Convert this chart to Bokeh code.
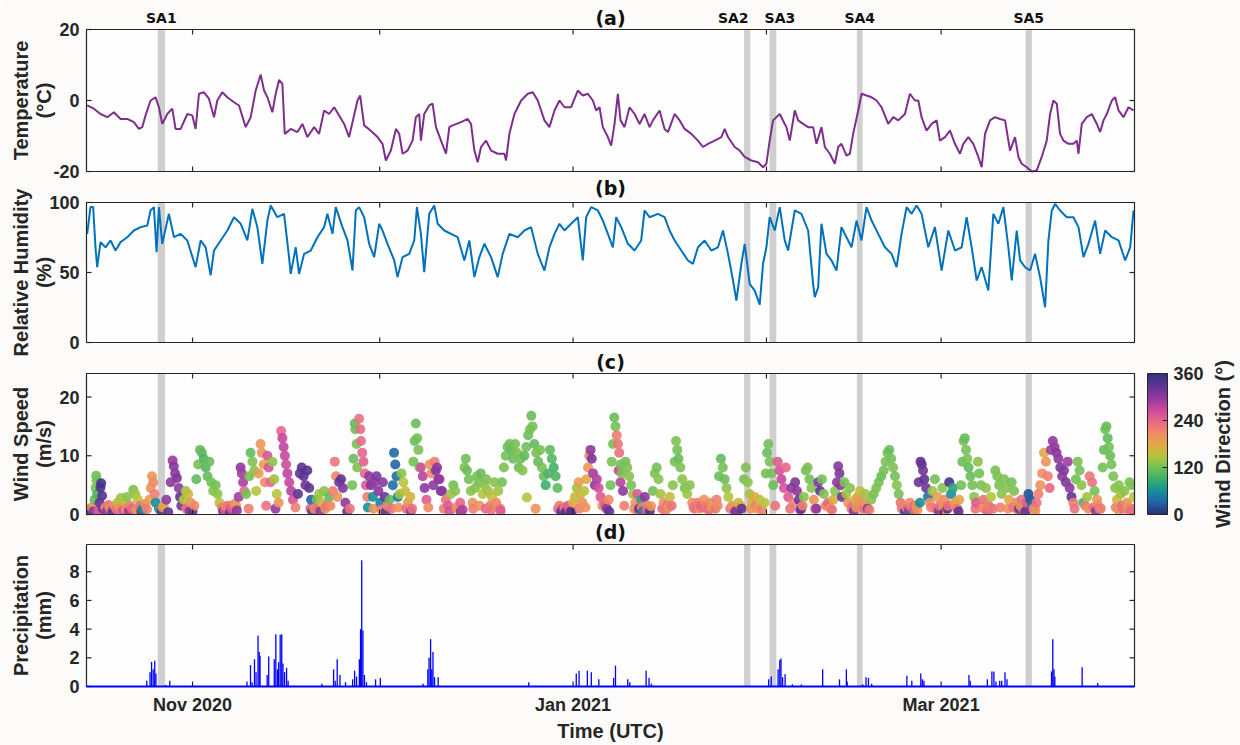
import numpy as np
import pandas as pd
from bokeh.plotting import figure
from bokeh.models import (Range1d, FixedTicker, BoxAnnotation, ColorBar, LinearColorMapper,
                          ColumnDataSource)
from bokeh.transform import linear_cmap
from bokeh.core.properties import value
from bokeh.embed import file_html
from bokeh.resources import INLINE

# ---------------------------------------------------------------- data
# all times are given in days since the start of the record (2020-10-15 00:00 UTC)
record_start = "2020-10-15 00:00"
record_end = "2021-04-01 00:00"

# special-attention periods (UTC)
sa_names = ["SA1", "SA2", "SA3", "SA4", "SA5"]
sa_start = ["2020-10-26 10:00", "2021-01-28 10:00", "2021-02-01 12:00", "2021-02-15 12:00", "2021-03-14 13:00"]
sa_end = ["2020-10-27 14:00", "2021-01-29 10:00", "2021-02-02 14:00", "2021-02-16 10:00", "2021-03-15 13:00"]

month_ticks = ["2020-11-01", "2020-12-01", "2021-01-01", "2021-02-01", "2021-03-01"]
labeled_months = ["2020-11-01", "2021-01-01", "2021-03-01"]

temp_ticks = [-20, 0, 20]
rh_ticks = [0, 50, 100]
ws_ticks = [0, 10, 20]
pr_ticks = [0, 2, 4, 6, 8]
dir_ticks = [0, 120, 240, 360]

temp_day = [0.11, 1.18, 2.25, 3.32, 4.39, 5.46, 6.53, 7.6, 8.4, 8.93, 9.47, 10.27, 11.07, 11.61, 12.14,
            12.95, 13.75, 14.28, 15.09, 16.16, 16.96, 17.49, 18.03, 18.83, 19.63, 20.44, 20.97, 21.77,
            22.58, 23.65, 24.45, 25.52, 26.32, 27.12, 27.93, 28.46, 29.0, 29.8, 30.33, 30.87, 31.4,
            31.78, 32.74, 33.81, 34.61, 35.42, 36.49, 37.29, 38.09, 38.89, 39.7, 40.5, 41.3, 42.1,
            42.64, 43.44, 43.87, 44.51, 45.58, 46.65, 47.45, 47.99, 48.79, 49.6, 50.13, 50.67, 51.47,
            52.27, 52.8, 53.34, 53.61, 54.14, 54.94, 55.48, 56.02, 56.83, 57.63, 58.16, 58.7, 60.04,
            61.11, 61.64, 62.18, 62.71, 63.25, 64.05, 64.85, 65.92, 66.99, 67.26, 67.79, 68.6, 69.67,
            70.74, 71.54, 72.34, 73.41, 74.21, 75.02, 75.82, 76.62, 77.69, 78.76, 79.56, 80.37, 81.17,
            81.7, 82.24, 82.77, 83.58, 84.11, 84.65, 85.18, 85.61, 86.25, 87.05, 87.86, 88.66, 89.46,
            90.26, 90.8, 91.87, 92.67, 93.21, 94.28, 95.08, 95.88, 96.95, 98.02, 98.82, 99.63, 100.7,
            101.77, 102.3, 102.84, 103.91, 104.71, 105.51, 106.58, 107.65, 108.45, 108.99, 109.52,
            110.06, 111.13, 111.93, 112.2, 112.74, 113.54, 114.08, 114.88, 115.68, 116.48, 117.02,
            117.82, 118.36, 119.16, 119.96, 120.5, 121.03, 121.83, 122.37, 122.9, 123.71, 124.24,
            125.04, 125.85, 126.65, 127.45, 128.52, 129.32, 130.13, 131.2, 132.0, 132.8, 133.34,
            133.87, 134.67, 135.48, 136.28, 136.81, 137.62, 138.42, 139.22, 140.02, 140.56, 141.36,
            142.16, 142.97, 143.5, 144.04, 144.84, 145.64, 146.44, 147.25, 148.05, 148.85, 149.39,
            149.92, 150.72, 151.53, 152.33, 153.13, 153.93, 154.47, 155.0, 155.54, 156.07, 156.61,
            157.41, 158.21, 158.75, 159.02, 159.55, 160.35, 161.16, 161.96, 162.49, 163.03, 163.56,
            164.37, 164.9, 165.44, 166.24, 167.04, 167.84]
temp_c = [-1.4, -2.3, -3.8, -4.7, -3.3, -5.2, -5.2, -6.1, -8.0, -7.5, -4.2, 0.0, 0.9, -1.9, -6.6,
          -3.8, -2.3, -8.0, -8.0, -3.8, -4.2, -8.0, 1.9, 2.3, 0.5, -4.7, 0.0, 2.3,
          0.9, -0.5, -1.4, -7.5, -4.7, 2.8, 7.3, 2.8, 0.9, -3.3, 1.9, 5.8, 4.7,
          -9.4, -8.0, -8.9, -6.6, -10.3, -7.5, -9.4, -2.8, -3.8, -1.9, -4.2, -6.6, -10.3,
          -6.1, 0.0, 1.4, -7.0, -8.5, -10.3, -12.2, -16.9, -14.1, -8.0, -9.4, -15.0, -14.1,
          -11.3, -4.7, -3.8, -11.3, -3.8, -1.4, -0.9, -7.5, -11.3, -15.0, -7.5, -7.0, -6.1,
          -5.2, -6.6, -14.1, -17.4, -13.1, -11.3, -14.1, -15.0, -15.0, -16.9, -9.4, -3.8, 0.0,
          1.9, 2.3, 0.0, -5.6, -7.5, -2.8, 0.0, -1.9, -1.9, 2.8, 1.4, 1.9, 0.0,
          -2.8, -1.9, -7.5, -10.3, -12.7, -6.6, 1.9, -5.6, -7.5, -1.9, -3.8, -6.6, -3.8,
          -7.5, -5.6, -2.8, -8.0, -8.9, -3.8, -5.6, -8.0, -9.4, -11.3, -13.1, -12.2, -11.3,
          -10.3, -8.0, -10.3, -13.1, -14.1, -15.9, -16.9, -17.4, -18.8, -17.8, -11.3,
          -5.6, -3.8, -6.6, -7.5, -11.3, -2.8, -5.6, -6.6, -7.5, -7.5, -12.2,
          -7.5, -13.1, -15.0, -17.8, -13.1, -12.2, -15.5, -15.0, -9.4, -2.8, 1.9,
          1.4, 0.9, 0.0, -1.9, -6.6, -4.7, -5.6, -3.8, 1.9, 0.0, 0.0,
          -4.7, -8.5, -6.6, -5.6, -11.3, -10.3, -8.5, -12.2, -15.0, -12.2, -10.3,
          -12.2, -15.9, -18.8, -9.4, -5.6, -4.7, -5.2, -5.6, -14.1, -10.3, -15.9,
          -17.8, -18.8, -20.0, -19.7, -15.9, -11.3, -3.8, 0.0, -0.9, -9.4, -11.3,
          -12.2, -12.2, -11.3, -15.0, -6.6, -4.7, -3.8, -6.6, -8.9, -5.6, -3.8,
          0.0, 0.9, -2.8, -4.7, -1.9, -2.8]

rh_day = [0.11, 0.64, 1.07, 1.44, 1.71, 2.25, 3.05, 3.85, 4.65, 5.46, 6.53, 7.6, 8.67, 9.74, 10.27,
          10.81, 11.23, 11.61, 12.14, 13.21, 14.02, 15.09, 16.16, 17.49, 18.3, 19.1, 19.9, 20.44,
          21.51, 22.58, 23.65, 24.72, 25.79, 26.59, 27.39, 28.19, 29.0, 29.53, 30.6, 31.67, 32.47,
          32.74, 33.54, 34.08, 34.88, 35.95, 37.02, 38.09, 38.62, 39.43, 39.96, 41.03, 41.84, 42.64,
          43.17, 43.71, 44.51, 45.31, 46.12, 46.92, 47.45, 48.26, 49.33, 49.86, 50.67, 51.73, 52.54,
          52.97, 53.61, 54.14, 54.94, 55.75, 56.29, 57.36, 58.43, 59.5, 60.57, 61.37, 62.18, 62.98,
          63.78, 64.85, 65.92, 66.72, 67.79, 69.13, 70.2, 71.27, 72.34, 73.41, 74.21, 75.02, 75.82,
          76.62, 77.69, 78.76, 79.56, 80.1, 80.9, 81.97, 82.77, 83.58, 84.38, 84.91, 85.72, 86.79,
          87.86, 88.92, 89.46, 90.26, 91.6, 92.67, 93.47, 94.28, 95.35, 96.42, 97.22, 98.02, 99.09,
          100.16, 101.23, 102.03, 102.84, 103.64, 104.18, 104.98, 105.51, 106.31, 107.12, 107.92,
          108.45, 108.99, 109.52, 110.33, 111.13, 111.93, 112.47, 113.54, 114.61, 115.68, 116.48,
          116.75, 117.29, 117.82, 118.62, 119.43, 120.23, 121.03, 121.83, 122.64, 123.44, 124.24,
          125.04, 125.85, 126.92, 127.99, 129.06, 129.86, 130.66, 131.46, 132.27, 133.07, 133.87,
          134.94, 136.01, 137.08, 138.15, 139.22, 140.29, 141.09, 141.9, 142.7, 143.5, 144.57,
          145.37, 146.18, 146.98, 147.78, 148.32, 149.12, 149.66, 150.45, 151.26, 152.06, 152.86,
          153.67, 154.2, 154.74, 155.27, 156.07, 157.14, 158.21, 159.02, 159.82, 160.62, 161.69,
          162.49, 163.3, 164.37, 165.44, 166.51, 167.31, 167.84]
rh_pct = [77.6, 96.7, 96.7, 68, 53.8, 71.7, 68, 72.9, 65.7, 71.7, 75.2, 80, 82.4, 83.6, 94.3,
          96.7, 64.5, 96.7, 70.5, 91.9, 75.2, 77.6, 72.9, 53.8, 72.9, 68, 47.9, 65.7,
          72.9, 80, 89.5, 84.8, 72.9, 95.5, 82.4, 56.2, 87.1, 97.9, 89.5, 91.9, 61,
          49, 68, 49, 63.3, 65.7, 75.2, 82.4, 91.9, 77.6, 96.7, 82.4, 72.9, 51.4,
          94.3, 96.7, 89.5, 70.5, 61, 84.8, 80, 70.5, 58.6, 46.7, 61, 63.3, 72.9,
          96.7, 77.6, 50.2, 91.9, 97.9, 84.8, 80, 77.6, 75.2, 58.6, 72.9, 46.7, 61,
          70.5, 61, 46.7, 63.3, 77.6, 75.2, 80, 82.4, 63.3, 51.4, 68, 77.6, 84.8,
          80, 84.8, 89.5, 58.6, 89.5, 96.7, 94.3, 87.1, 77.6, 68, 89.5, 82.4, 70.5,
          65.7, 72.9, 94.3, 89.5, 91.9, 89.5, 80, 72.9, 65.7, 58.6, 56.2, 68, 72.9,
          65.7, 68, 80, 63.3, 44.3, 30, 56.2, 70.5, 41.9, 37.1, 27,
          56.2, 68, 89.5, 80, 96.7, 72.9, 65.7, 94.3, 91.9, 80, 41.9,
          32.4, 39.5, 84.8, 63.3, 58.6, 51.4, 82.4, 75.2, 68, 87.1, 72.9,
          96.7, 87.1, 77.6, 68, 63.3, 53.8, 77.6, 96.7, 91.9, 97.9, 91.9,
          68, 82.4, 51.4, 80, 65.7, 68, 89.5, 68, 44.3, 53.8, 37.1,
          91.9, 84.8, 96.7, 68, 44.3, 80, 58.6, 53.8, 51.4, 63.3, 46.7,
          25.2, 72.9, 94.3, 99, 94.3, 89.5, 89.5, 82.4, 61, 70.5, 87.1,
          63.3, 80, 75.2, 72.9, 58.6, 68, 94.3]

# wind observations: time (days), speed (m/s), direction (degrees)
wind_day = [
    0.2, 0.5, 0.8, 1.1,
    1.3, 1.45, 1.55, 1.6, 1.7,
    2.1, 2.25, 2.35, 2.5, 2.6,
    3.0, 3.5, 4.0, 4.5, 5.0, 5.5, 6.0, 6.5, 7.0, 7.5, 7.8, 8.2, 8.6, 9.0, 9.4,
    10.1, 10.3, 10.5, 10.7, 10.9, 11.1,
    11.6, 12.0, 12.4, 12.8, 13.1,
    13.5, 13.8, 14.0, 14.2, 14.5, 14.8, 15.0, 15.2,
    15.6, 15.9, 16.3, 16.7, 17.0,
    17.6, 17.9, 18.2, 18.5, 18.8, 19.1, 19.4, 19.7, 20.0, 20.3,
    20.7, 21.0, 21.3,
    21.7, 22.2, 22.7, 23.2, 23.7, 24.1,
    24.4, 24.7, 24.9, 25.1, 25.3, 25.6,
    26.1, 26.3, 26.6, 26.9, 27.2,
    27.6, 27.9, 28.1, 28.4, 28.6,
    29.0, 29.2, 29.5, 29.8, 30.1, 30.5, 30.8,
    31.2, 31.4, 31.6, 31.8, 32.0, 32.2, 32.5, 32.8, 33.1,
    33.9, 34.2, 34.5, 34.8, 35.1, 35.4, 35.7, 36.0,
    36.5, 36.9, 37.3, 37.7, 38.1, 38.5, 38.9,
    39.5, 39.8, 40.0, 40.2,
    40.5, 40.8, 41.1, 41.5, 41.8,
    42.6, 42.8, 43.0, 43.1, 43.3, 43.4,
    43.7, 43.9, 44.0, 44.2, 44.4, 44.6, 44.8, 45.0,
    45.3, 45.6, 45.9, 46.2, 46.5, 46.8, 47.1, 47.5, 47.8, 48.2, 48.6,
    49.1, 49.3, 49.5, 49.7, 49.9,
    50.2, 50.5, 50.8, 51.1, 51.5, 51.9, 52.2,
    52.4, 52.6, 52.8, 53.0, 53.2, 53.4,
    53.6, 53.9, 54.2, 54.5,
    55.0, 55.3, 55.6, 55.8, 56.0, 56.2, 56.4, 56.6, 56.8, 57.0,
    57.6, 58.0, 58.4, 58.8, 59.1, 59.5, 59.9, 60.3,
    60.6, 60.8, 61.0, 61.3, 61.6, 61.9,
    62.3, 62.6, 62.9, 63.2, 63.5, 63.8, 64.1, 64.4, 64.7, 65.0, 65.4, 65.7, 66.0, 66.3,
    66.6, 66.9, 67.2, 67.5, 67.8, 68.1, 68.4, 68.7, 69.0, 69.3, 69.6, 69.9, 70.2, 70.5, 70.6, 70.8, 71.1, 71.3, 71.5,
    71.8, 72.1, 72.4, 72.7, 73.0, 73.3, 73.6,
    74.0, 74.3, 74.6, 74.9, 75.2, 75.5,
    75.8, 76.1, 76.4, 76.8, 77.2, 77.6, 78.0,
    78.3, 78.6, 78.9, 79.2, 79.5, 79.8, 80.1,
    80.4, 80.6, 80.8, 81.0, 81.2, 81.5, 81.8, 82.1, 82.4, 82.7,
    83.0, 83.4, 83.7,
    84.0, 84.2, 84.4, 84.6, 84.8, 85.0, 85.2, 85.3, 85.4, 85.6, 85.6, 85.8, 86.0,
    86.4, 86.7, 87.0, 87.3, 87.6,
    88.0, 88.3, 88.6, 88.9, 89.2, 89.5, 89.9, 90.3,
    90.8, 91.1, 91.4, 91.7, 92.0,
    92.5, 93.0, 93.5, 94.0, 94.3, 94.5, 94.7, 94.9, 95.2, 95.5, 95.9, 96.3, 96.7, 97.1, 97.5,
    98.0, 98.5, 99.0, 99.5, 100.0, 100.5, 101.0,
    101.4, 101.7, 102.0, 102.3, 102.6, 102.9,
    103.5, 104.0, 104.5, 105.0,
    105.4, 105.7, 106.0, 106.3,
    106.7, 107.1, 107.5, 107.9, 108.3, 108.7,
    108.9, 109.1, 109.3, 109.5, 109.8, 110.1,
    110.8, 111.1, 111.4, 111.8, 112.1, 112.5, 113.0, 113.3,
    113.6, 113.9, 114.2, 114.6,
    115.0, 115.3, 115.6, 115.9, 116.2, 116.6, 117.0,
    117.3, 117.6, 117.9, 118.2, 118.5, 118.9, 119.3, 119.7, 120.0,
    120.3, 120.5, 120.7, 120.9, 121.1,
    121.5, 121.8, 122.1, 122.4, 122.8, 123.2,
    123.6, 124.0, 124.4, 124.8, 125.2,
    125.8, 126.2, 126.6, 127.0, 127.4, 127.8, 128.1, 128.4, 128.7, 129.0, 129.3, 129.6, 129.9, 130.2, 130.5,
    130.8, 131.2, 131.6, 132.0, 132.4, 132.8, 133.2, 133.6,
    133.4, 133.7, 133.9, 134.1, 134.3, 134.6, 134.9,
    135.2, 135.6, 136.0, 136.4, 136.8, 137.2, 137.6, 138.0,
    138.3, 138.6, 138.9, 139.2, 139.6, 139.9,
    140.2, 140.4, 140.6, 140.8, 141.0, 141.2, 141.4, 141.7, 142.0, 142.3,
    142.6, 142.9, 143.1, 143.4, 143.8, 144.2, 144.6, 145.0,
    145.7, 146.0, 146.3, 146.7, 147.1, 147.5, 147.9, 148.3, 148.7, 149.1, 149.5, 149.9, 150.3, 150.7,
    151.0, 151.3, 151.6, 152.0, 152.3,
    152.6, 152.9, 153.2, 153.5, 153.8, 154.1, 154.4,
    154.6, 154.9, 155.2, 155.5, 155.8, 156.1, 156.4, 156.7, 157.0, 157.3, 157.6, 157.9, 158.2,
    158.6, 158.9, 159.2, 159.5, 159.8,
    160.4, 160.8, 161.2, 161.6, 162.0, 162.4,
    162.9, 163.1, 163.3, 163.5, 163.7, 163.9, 164.1, 164.3, 164.6, 164.9,
    165.2, 165.5, 165.8, 166.1, 166.4, 166.8, 167.2, 167.6, 167.9,
]
wind_speed = [
    0.8, 0.3, 1.2, 0.5,
    2.5, 4.5, 6.6, 5.8, 3.5,
    2.0, 4.6, 5.3, 3.2, 1.0,
    1.2, 1.6, 0.8, 1.5, 2.0, 2.8, 2.2, 3.0, 1.5, 4.2, 3.5, 2.6, 1.5, 1.0, 1.8,
    2.5, 4.5, 6.5, 5.5, 3.5, 2.0,
    1.0, 0.5, 1.5, 2.5, 0.4,
    5.5, 9.2, 8.2, 7.0, 6.2, 4.5, 3.0, 1.5,
    2.5, 4.0, 3.5, 2.0, 0.5,
    6.0, 8.5, 11.0, 10.5, 9.5, 8.0, 6.5, 9.0, 5.5, 4.0,
    5.0, 3.5, 2.0,
    1.2, 0.8, 1.5, 1.0, 1.8, 0.7,
    3.0, 8.0, 7.0, 5.5, 4.0, 3.5,
    6.5, 10.5, 9.0, 7.5, 4.0,
    7.0, 12.0, 10.5, 8.5, 5.5,
    10.0, 8.0, 5.5, 9.0, 6.0, 3.5, 2.0,
    14.2, 13.0, 11.5, 10.0, 8.5, 7.0, 5.5, 4.0, 2.5,
    3.5, 7.0, 8.0, 6.5, 5.0, 7.5, 4.5, 2.5,
    1.0, 2.5, 3.5, 2.0, 4.0, 1.5, 3.0,
    4.0, 9.0, 6.5, 3.0,
    5.5, 6.0, 4.5, 2.0, 0.5,
    5.0, 9.5, 15.5, 14.5, 12.0, 8.0,
    16.3, 14.5, 12.5, 10.5, 9.0, 7.0, 5.0, 3.0,
    6.5, 5.0, 3.0, 5.5, 6.5, 4.0, 2.0, 5.5, 3.0, 1.5, 2.5,
    5.0, 10.5, 8.5, 6.5, 3.0,
    3.5, 7.0, 5.5, 4.0, 2.0, 3.0, 1.0,
    9.0, 12.5, 15.5, 13.0, 11.0, 8.0,
    8.0, 6.5, 4.5, 2.5,
    8.5, 7.0, 5.0, 9.0, 7.5, 8.0, 6.0, 6.0, 4.0, 4.0,
    2.5, 1.5, 3.5, 5.0, 4.0, 1.0, 2.0, 0.8,
    8.0, 9.5, 7.5, 6.0, 4.0, 2.0,
    4.5, 6.5, 5.5, 7.0, 3.5, 5.0, 6.0, 4.0, 1.5, 3.0, 5.5, 2.0, 4.0, 1.0,
    5.5, 8.0, 10.0, 11.5, 12.0, 11.0, 9.5, 12.0, 10.5, 8.0, 9.5, 7.5, 10.0, 11.5, 2.9, 13.5, 14.5, 16.8, 15.0,
    12.0, 10.5, 9.0, 11.0, 8.0, 6.5, 5.0,
    7.0, 11.0, 9.5, 8.0, 6.5, 4.5,
    1.5, 0.5, 1.0, 0.3, 1.5, 0.5, 2.0,
    3.0, 4.5, 5.5, 3.5, 2.0, 4.0, 6.0,
    8.0, 10.0, 11.0, 9.5, 7.0, 5.0, 6.0, 4.5, 3.0, 1.5,
    2.0, 1.0, 2.5,
    5.0, 9.0, 12.0, 16.5, 15.0, 13.5, 12.0, 7.5, 10.5, 8.5, 5.5, 7.0, 4.0,
    9.0, 8.0, 6.5, 5.0, 3.5,
    2.0, 3.5, 1.0, 2.5, 0.5, 3.0, 1.5, 0.6,
    4.0, 7.0, 8.0, 6.0, 3.5,
    2.0, 1.5, 3.0, 5.0, 9.0, 12.5, 11.0, 9.5, 8.0, 6.0, 4.5, 3.5, 5.0, 2.0, 1.0,
    2.0, 1.5, 2.5, 1.0, 2.0, 1.5, 2.5,
    6.5, 9.5, 8.0, 6.0, 4.5, 3.0,
    1.5, 0.5, 2.0, 1.0,
    6.0, 8.0, 5.5, 3.5,
    2.0, 3.0, 1.0, 2.5, 0.8, 2.0,
    7.0, 10.5, 12.0, 9.0, 7.0, 5.0,
    9.0, 7.5, 6.0, 4.5, 8.0, 3.0, 4.5, 2.0,
    5.5, 4.0, 2.5, 1.0,
    3.0, 7.5, 8.0, 6.0, 4.5, 2.5, 1.0,
    5.5, 4.0, 6.0, 3.5, 1.5, 2.0, 1.0, 2.5, 4.0,
    5.5, 8.2, 7.0, 5.0, 3.0,
    5.5, 3.5, 2.0, 4.5, 1.5, 2.5,
    3.0, 4.0, 2.0, 3.5, 1.0,
    2.5, 3.5, 4.5, 5.5, 6.5, 7.5, 9.0, 10.5, 11.0, 9.5, 8.0, 6.5, 5.0, 3.5, 2.0,
    1.5, 0.5, 1.0, 2.0, 0.3, 1.5, 0.8, 2.0,
    5.5, 9.0, 8.5, 7.5, 6.0, 4.5, 3.0,
    2.0, 4.0, 6.0, 3.0, 1.5, 4.5, 2.5, 1.0,
    5.5, 3.5, 4.5, 2.0, 1.0, 2.5,
    5.0, 9.0, 12.5, 13.0, 11.0, 9.5, 8.0, 6.5, 5.0, 3.0,
    2.0, 9.0, 7.0, 5.0, 2.5, 4.5, 1.5, 3.0,
    7.5, 6.5, 5.0, 3.5, 6.0, 4.5, 2.5, 5.5, 4.0, 2.0, 1.0, 2.5, 1.5, 2.0,
    3.5, 2.5, 1.5, 1.0, 2.0,
    3.5, 5.0, 7.0, 10.5, 9.0, 6.5, 4.5,
    11.0, 12.5, 11.5, 10.5, 9.5, 8.0, 6.5, 7.5, 5.5, 9.0, 4.5, 3.0, 2.0,
    6.0, 9.0, 7.5, 5.0, 2.0,
    3.0, 6.5, 5.5, 4.0, 2.5, 1.0,
    8.0, 11.0, 14.5, 15.0, 13.0, 11.5, 10.0, 8.5, 6.5, 4.5,
    2.5, 5.0, 3.5, 1.0, 4.0, 2.0, 5.5, 5.0, 3.0,
]
wind_dir = [
    320, 20, 200, 300,
    110, 120, 115, 120, 100,
    330, 340, 345, 335, 320,
    210, 230, 250, 200, 160, 140, 150, 130, 220, 125, 140, 150, 230, 60, 210,
    190, 200, 195, 210, 220, 60,
    70, 330, 180, 300, 330,
    300, 295, 305, 300, 310, 300, 330, 320,
    150, 140, 160, 200, 330,
    110, 120, 115, 110, 100, 105, 110, 115, 120, 130,
    120, 130, 150,
    220, 250, 230, 260, 210, 300,
    290, 300, 290, 285, 240, 120,
    120, 110, 125, 130, 150,
    190, 195, 200, 185, 210,
    255, 260, 240, 130, 140, 150, 200,
    240, 270, 275, 270, 265, 275, 270, 280, 260,
    330, 325, 335, 330, 320, 335, 330, 30,
    200, 120, 140, 160, 130, 230, 110,
    220, 225, 215, 200,
    320, 325, 310, 300, 330,
    120, 115, 110, 115, 120, 125,
    230, 235, 235, 240, 245, 240, 250, 220,
    300, 310, 60, 295, 310, 305, 50, 300, 320, 220, 110,
    40, 35, 30, 40, 50,
    140, 130, 150, 160, 200, 170, 230,
    120, 115, 115, 120, 125, 115,
    260, 280, 300, 250,
    200, 210, 300, 220, 310, 300, 305, 295, 320, 300,
    230, 250, 140, 120, 130, 200, 240, 280,
    125, 120, 115, 120, 130, 200,
    130, 120, 125, 115, 150, 130, 125, 140, 220, 160, 130, 210, 140, 230,
    120, 125, 120, 115, 120, 110, 115, 120, 125, 115, 120, 130, 110, 120, 150, 115, 120, 115, 120,
    110, 120, 115, 125, 120, 115, 90,
    100, 110, 105, 95, 100, 110,
    220, 330, 300, 340, 250, 320, 180,
    160, 140, 190, 170, 200, 150, 180,
    200, 215, 300, 310, 290, 300, 280, 260, 250, 200,
    230, 300, 210,
    120, 125, 120, 115, 120, 220, 225, 270, 230, 120, 280, 125, 300,
    120, 125, 130, 120, 140,
    200, 250, 330, 80, 50, 300, 220, 340,
    120, 125, 120, 130, 140,
    200, 230, 160, 130, 120, 125, 120, 115, 125, 130, 120, 140, 130, 210, 230,
    220, 240, 200, 230, 210, 180, 220,
    115, 110, 120, 115, 130, 150,
    200, 320, 160, 330,
    120, 125, 130, 140,
    170, 180, 200, 160, 220, 150,
    120, 115, 120, 125, 120, 115,
    250, 260, 270, 260, 240, 250, 300, 220,
    310, 300, 320, 330,
    130, 120, 125, 120, 130, 200, 300,
    310, 330, 120, 130, 220, 240, 200, 170, 130,
    300, 305, 310, 300, 320,
    120, 140, 200, 130, 230, 170,
    190, 160, 210, 140, 300,
    130, 120, 125, 120, 115, 120, 125, 120, 115, 120, 125, 120, 130, 120, 230,
    220, 20, 240, 210, 40, 250, 200, 60,
    320, 330, 325, 320, 330, 320, 40,
    200, 140, 120, 190, 230, 130, 210, 330,
    345, 60, 80, 200, 230, 180,
    120, 115, 120, 115, 120, 125, 110, 115, 120, 130,
    250, 130, 120, 125, 230, 130, 220, 150,
    120, 125, 120, 130, 125, 130, 180, 120, 125, 210, 330, 230, 200, 250,
    20, 25, 40, 210, 230,
    220, 200, 210, 180, 200, 220, 240,
    290, 300, 295, 305, 300, 310, 300, 305, 310, 290, 300, 330, 220,
    120, 125, 120, 130, 90,
    140, 225, 230, 120, 200, 230,
    120, 115, 120, 115, 110, 120, 115, 120, 125, 130,
    170, 130, 140, 230, 130, 200, 120, 125, 150,
]

# light-wind observations close to the ground line
light_day = [1.9, 3.2, 3.8, 4.2, 4.8, 5.3, 5.8, 6.3, 6.8, 7.3, 8.0, 8.8, 9.7, 12.2, 16.0, 16.5, 17.3,
             21.9, 22.4, 23.0, 23.5, 24.0, 26.0, 28.8, 30.3, 33.5, 35.9, 36.2, 37.0, 37.5, 38.3,
             39.1, 42.2, 45.1, 46.0, 47.3, 48.0, 48.9, 50.0, 51.3, 52.0, 54.8, 57.3, 58.2, 59.3,
             60.0, 62.0, 63.0, 64.0, 64.9, 65.9, 66.4, 72.0, 75.6, 76.3, 76.6, 77.0, 77.4, 77.8,
             79.0, 80.0, 83.2, 83.8, 86.2, 87.8, 88.4, 89.0, 89.7, 90.0, 90.5, 92.3, 92.8, 93.3,
             93.8, 97.3, 97.8, 98.3, 98.8, 99.3, 99.8, 100.3, 100.8, 101.2, 103.2, 103.8, 104.3,
             104.8, 106.5, 107.3, 110.4, 112.8, 114.4, 114.8, 116.8, 118.7, 119.5, 122.6, 123.0,
             123.4, 124.6, 125.0, 125.5, 130.7, 131.4, 131.8, 132.2, 132.6, 133.0, 135.4, 136.2,
             136.6, 137.4, 137.8, 138.1, 139.4, 139.8, 142.5, 143.6, 144.0, 144.4, 144.8, 145.3,
             146.5, 147.7, 148.5, 149.3, 149.7, 150.1, 150.5, 151.8, 152.1, 158.4, 160.1, 160.6,
             161.4, 161.8, 162.2, 162.6, 165.0, 165.4, 166.0, 166.6, 167.0, 167.4, 167.8]
light_speed = [0.6, 0.5, 1.0, 0.4, 0.9, 1.2, 0.7, 1.0, 0.6, 1.0, 0.8, 0.5, 0.9, 1.2, 1.0, 0.6, 1.5,
               0.5, 1.4, 0.4, 1.2, 1.5, 1.0, 1.5, 1.0, 1.2, 1.0, 0.5, 1.2, 0.6, 1.0,
               1.5, 1.0, 1.2, 1.0, 0.8, 0.5, 1.0, 1.2, 1.0, 0.6, 1.2, 1.0, 0.6, 1.2,
               0.5, 1.0, 1.5, 1.0, 0.8, 1.2, 0.6, 1.0, 1.0, 0.4, 1.2, 0.6, 0.8, 0.4,
               1.0, 1.2, 1.5, 0.5, 1.5, 1.0, 0.6, 1.2, 0.5, 1.0, 1.4, 1.0, 0.6, 1.2,
               1.5, 1.2, 1.5, 1.0, 1.2, 1.5, 0.8, 1.2, 1.0, 1.5, 1.0, 1.2, 0.6,
               1.5, 1.0, 1.5, 1.5, 1.0, 0.8, 1.5, 1.0, 1.5, 0.8, 1.0, 0.6,
               1.2, 1.0, 1.5, 0.8, 1.0, 1.2, 0.5, 1.2, 0.8, 1.5, 1.2, 1.0,
               0.6, 1.5, 0.8, 1.5, 1.2, 0.5, 1.0, 1.2, 1.0, 0.6, 1.2, 1.0,
               1.2, 1.0, 1.2, 0.8, 1.5, 1.0, 0.5, 1.0, 0.6, 1.0, 1.5, 1.0,
               1.2, 0.6, 1.5, 1.0, 1.2, 0.8, 1.5, 1.0, 1.2, 0.6, 1.0]
light_dir = [250, 300, 180, 330, 230, 200, 260, 210, 300, 240, 200, 330, 220, 200, 230, 300, 210,
             320, 200, 330, 240, 190, 220, 230, 300, 220, 250, 320, 230, 300, 200,
             210, 230, 60, 200, 220, 330, 230, 200, 240, 300, 210, 220, 260, 200,
             300, 220, 200, 240, 230, 200, 250, 200, 240, 320, 220, 330, 240, 340,
             220, 200, 250, 330, 220, 200, 240, 220, 260, 230, 200, 240, 220, 200,
             230, 220, 230, 200, 240, 220, 230, 200, 230, 210, 230, 200, 300,
             180, 200, 220, 230, 230, 300, 220, 230, 210, 230, 220, 300,
             200, 230, 190, 220, 230, 210, 300, 220, 240, 200, 220, 230,
             300, 200, 220, 230, 200, 330, 230, 220, 200, 240, 220, 230,
             220, 200, 230, 220, 200, 220, 330, 220, 200, 230, 220, 200,
             230, 300, 210, 220, 220, 200, 230, 220, 200, 240, 230]

precip_day = [9.66, 10.18, 10.43, 10.69, 10.94, 11.13, 12.72, 13.35, 25.72, 26.29, 26.55, 26.93,
              27.18, 27.5, 27.69, 27.82, 28.96, 29.21, 30.1, 30.35, 30.61, 30.8, 31.05, 31.3, 31.49,
              31.75, 32.07, 32.32, 37.72, 39.61, 39.87, 40.19, 40.63, 41.52, 42.66, 42.98, 43.29,
              43.74, 43.93, 44.12, 44.31, 44.56, 44.88, 46.34, 47.1, 53.95, 54.72, 54.91, 55.16,
              55.35, 55.54, 55.79, 56.37, 70.9, 78.51, 78.96, 80.29, 80.92, 82.13, 84.5, 84.8,
              86.76, 87.09, 89.71, 90.18, 90.56, 109.36, 109.76, 110.87, 111.14, 111.33, 111.59,
              111.99, 113.16, 114.61, 118.01, 120.71, 121.81, 121.94, 124.43, 124.96, 125.35,
              125.87, 131.51, 132.3, 133.74, 134.0, 134.25, 141.46, 141.67, 144.41, 145.14, 145.46,
              145.79, 146.39, 146.71, 147.24, 147.56, 154.7, 154.9, 155.09, 155.23, 159.61, 162.1]
precip_mm = [0.4, 1.0, 1.7, 1.2, 1.8, 0.9, 0.1, 0.4, 0.35, 1.5, 0.3, 1.9,
             1.0, 3.55, 2.4, 2.15, 0.8, 2.1, 1.9, 3.65, 1.2, 1.7, 3.6, 3.65, 1.6,
             1.0, 1.3, 0.4, 0.2, 1.2, 0.4, 1.9, 0.8, 0.3, 0.5, 1.1, 0.7,
             1.9, 4.0, 8.8, 3.9, 0.8, 0.3, 0.5, 0.6, 0.2, 1.2, 2.0, 3.3,
             1.2, 2.4, 0.65, 0.65, 0.3, 0.9, 1.1, 1.1, 1.0, 0.5, 0.6, 1.45,
             0.5, 0.3, 1.1, 0.6, 0.2, 0.5, 0.7, 1.2, 1.85, 1.95, 0.65,
             0.85, 0.15, 0.15, 1.2, 0.5, 1.2, 0.35, 0.15, 0.65, 0.6,
             0.2, 0.75, 0.4, 0.9, 0.5, 0.4, 0.8, 0.4, 0.5, 1.05, 1.05,
             0.35, 0.4, 0.4, 1.0, 0.5, 1.05, 3.3, 1.2, 0.7, 1.35, 0.25]

# colour scale for wind direction (0 -> 360 degrees)
dir_anchor_deg = [0, 30, 60, 90, 120, 150, 180, 210, 240, 270, 300, 330, 360]
dir_anchor_hex = ["#2b2f78", "#2262a8", "#17909a", "#3cae6c", "#74c157", "#b7c43c", "#e3a746",
                  "#ef8a64", "#e8668a", "#c8479f", "#8e399f", "#5e3492", "#34307f"]

# ---------------------------------------------------------------- layout (pixels)
CANVAS_W, CANVAS_H = 1240, 745
PANEL_L, PANEL_R = 86, 1134
# panel name: value range and its top / bottom edge, in pixels from the top of the page
panel_box = {
    "a": (-20, 20, 29, 171),
    "b": (0, 100, 202, 342),
    "c": (0, 24, 373, 514),
    "d": (0, 9.9, 544, 686),
}

INK = "#262626"
GRID = "#dedede"
AX_FONT = "Liberation Sans"
TITLE_FONT = "DejaVu Sans"
OUTER_BG = "#fcfbf9"
INNER_BG = "#fefefe"
BAND = "#cccccc"
TICK_LEN = 5

# ---------------------------------------------------------------- helpers
for name, a, b in [("wind", wind_day, wind_speed), ("wind dir", wind_day, wind_dir),
                   ("light", light_day, light_speed), ("light dir", light_day, light_dir),
                   ("temp", temp_day, temp_c), ("rh", rh_day, rh_pct), ("precip", precip_day, precip_mm)]:
    if len(a) != len(b):
        raise ValueError(f"{name}: {len(a)} vs {len(b)}")

t0 = pd.Timestamp(record_start)


def to_time(days):
    return t0 + pd.to_timedelta(np.asarray(days, dtype=float), unit="D")


def ms(ts):
    return int(pd.Timestamp(ts).value // 1_000_000)


def build_palette(deg, hexes, n=256):
    rgb = np.array([[int(h[i:i + 2], 16) for i in (1, 3, 5)] for h in hexes], dtype=float)
    grid = np.linspace(0, 360, n)
    chans = [np.interp(grid, deg, rgb[:, k]) for k in range(3)]
    return ["#%02x%02x%02x" % (int(round(r)), int(round(g)), int(round(b))) for r, g, b in zip(*chans)]


def px_per_unit(name):
    v0, v1, top, bottom = panel_box[name]
    return (bottom - top) / (v1 - v0)


def panel_range(v0, v1, top, bottom):
    """Range whose [v0, v1] lands between the given pixel rows of the page."""
    s = (v1 - v0) / (bottom - top)
    return Range1d(v0 - (CANVAS_H - bottom) * s, v1 + top * s)


palette = build_palette(dir_anchor_deg, dir_anchor_hex)

x_lo, x_hi = ms(record_start), ms(record_end)
x_mid = (x_lo + x_hi) // 2
k = (x_hi - x_lo) / (PANEL_R - PANEL_L)
month_ms = [ms(m) for m in month_ticks]
labeled_ms = [ms(m) for m in labeled_months]
labeled_txt = [pd.Timestamp(m).strftime("%b %Y") for m in labeled_months]
sa_lo = [ms(s) for s in sa_start]
sa_hi = [ms(e) for e in sa_end]
sa_mid = [(a + b) // 2 for a, b in zip(sa_lo, sa_hi)]

p = figure(width=CANVAS_W, height=CANVAS_H, x_axis_type="datetime",
           x_range=Range1d(x_lo - PANEL_L * k, x_hi + (CANVAS_W - PANEL_R) * k),
           y_range=Range1d(0, 1), x_axis_location=None, y_axis_location=None,
           output_backend="svg", toolbar_location=None, min_border=0,
           background_fill_color=OUTER_BG, border_fill_color=OUTER_BG, outline_line_color=None)
p.extra_y_ranges = {name: panel_range(*box) for name, box in panel_box.items()}
p.xgrid.visible = False
p.ygrid.visible = False

ax_text = dict(text_font=value(AX_FONT), text_font_style=value("bold"), text_color=INK,
               level="overlay")
head_text = dict(text_font=value(TITLE_FONT), text_font_style=value("bold"), text_color="#111111",
                 text_align=value("center"), text_baseline=value("middle"), level="overlay")


def draw_panel(name, y_ticks, grid, x_ticks, y_title, title, title_gap):
    v0, v1 = panel_box[name][:2]
    # plotting area, event bands and grid
    p.add_layout(BoxAnnotation(left=x_lo, right=x_hi, bottom=v0, top=v1, y_range_name=name,
                               fill_color=INNER_BG, fill_alpha=1, line_alpha=0, level="underlay"))
    for a, b in zip(sa_lo, sa_hi):
        p.add_layout(BoxAnnotation(left=a, right=b, bottom=v0, top=v1, y_range_name=name,
                                   fill_color=BAND, fill_alpha=0.95, line_alpha=0, level="underlay"))
    p.segment(x0=[x_lo] * len(grid), x1=[x_hi] * len(grid), y0=grid, y1=grid, y_range_name=name,
              line_color=GRID, line_width=1.2, level="underlay")
    # inward tick marks on all four sides
    kw = dict(length=TICK_LEN, length_units="screen", line_color=INK, line_width=1.2,
              y_range_name=name, level="overlay")
    p.ray(x=x_ticks, y=[v1] * len(x_ticks), angle=-np.pi / 2, **kw)
    p.ray(x=x_ticks, y=[v0] * len(x_ticks), angle=np.pi / 2, **kw)
    p.ray(x=[x_lo] * len(y_ticks), y=y_ticks, angle=0, **kw)
    p.ray(x=[x_hi] * len(y_ticks), y=y_ticks, angle=np.pi, **kw)
    # tick labels, axis title and panel letter
    p.text(x=[x_lo] * len(y_ticks), y=y_ticks, text=[str(t) for t in y_ticks], x_offset=-7,
           text_align=value("right"), text_baseline=value("middle"), text_font_size=value("18px"),
           y_range_name=name, **ax_text)
    mid = 0.5 * (v0 + v1)
    p.text(x=[x_lo, x_lo], y=[mid, mid], text=y_title, x_offset=[-66, -43], angle=np.pi / 2,
           text_align=value("center"), text_baseline=value("middle"), text_font_size=value("20px"),
           y_range_name=name, **ax_text)
    p.text(x=[x_mid], y=[v1], text=[title], y_offset=-title_gap, text_font_size=value("19px"),
           y_range_name=name, **head_text)


def draw_outline(name):
    v0, v1 = panel_box[name][:2]
    p.add_layout(BoxAnnotation(left=x_lo, right=x_hi, bottom=v0, top=v1, y_range_name=name,
                               fill_alpha=0, line_color=INK, line_width=1.2, line_alpha=1,
                               level="annotation"))


# ---------------------------------------------------------------- (a) temperature
draw_panel("a", temp_ticks, [0], month_ms, ["Temperature", "(°C)"], "(a)", 12)
p.line(to_time(temp_day), temp_c, line_color="#7E2F8E", line_width=2.0, y_range_name="a")
sa_nudge = [0, -14, 7, 0, 0]
p.text(x=sa_mid, y=[panel_box["a"][1]] * len(sa_mid), text=sa_names, x_offset=sa_nudge,
       y_offset=-12, text_font_size=value("14px"), y_range_name="a", **head_text)
draw_outline("a")

# ---------------------------------------------------------------- (b) relative humidity
draw_panel("b", rh_ticks, [50], month_ms, ["Relative Humidity", "(%)"], "(b)", 15)
p.line(to_time(rh_day), rh_pct, line_color="#0072BD", line_width=2.0, y_range_name="b")
draw_outline("b")

# ---------------------------------------------------------------- (c) wind
draw_panel("c", ws_ticks, [10, 20], month_ms, ["Wind Speed", "(m/s)"], "(c)", 12)
obs_day = np.concatenate([wind_day, light_day])
obs_ws = np.concatenate([wind_speed, light_speed])
obs_wd = np.concatenate([wind_dir, light_dir])
order = np.argsort(obs_day, kind="stable")
wind_src = ColumnDataSource(dict(t=to_time(obs_day[order]), ws=obs_ws[order], wd=obs_wd[order]))
p.scatter("t", "ws", source=wind_src, size=10, line_color=None, fill_alpha=0.9,
          fill_color=linear_cmap("wd", palette, 0, 360), y_range_name="c")
# keep the markers inside the wind panel (page colour over the margins just outside it)
c_v0, c_v1, c_top, c_bottom = panel_box["c"]
pad_v = 8 / px_per_unit("c")
pad_x = 8 * k
for left, right, bottom, top in [(x_lo - pad_x, x_hi + pad_x, c_v0 - pad_v, c_v0),
                                 (x_lo - pad_x, x_lo, c_v0 - pad_v, c_v1),
                                 (x_hi, x_hi + pad_x, c_v0 - pad_v, c_v1)]:
    p.add_layout(BoxAnnotation(left=left, right=right, bottom=bottom, top=top, y_range_name="c",
                               fill_color=OUTER_BG, fill_alpha=1, line_alpha=0, level="guide"))
draw_outline("c")
mapper = LinearColorMapper(palette=palette, low=0, high=360)
cbar = ColorBar(color_mapper=mapper, location=(PANEL_R + 13, CANVAS_H - c_bottom), width=20,
                height=c_bottom - c_top, padding=0, ticker=FixedTicker(ticks=dir_ticks),
                major_label_text_font=AX_FONT, major_label_text_font_size="18px",
                major_label_text_font_style="bold", major_label_text_color=INK,
                major_tick_line_color=INK, major_tick_in=5, major_tick_out=0, bar_line_color=INK,
                label_standoff=6, background_fill_alpha=0, border_line_color=None)
p.add_layout(cbar)
p.text(x=[x_hi], y=[0.5 * (c_v0 + c_v1)], text=["Wind Direction (°)"], x_offset=88,
       angle=np.pi / 2, text_align=value("center"), text_baseline=value("middle"),
       text_font_size=value("20px"), y_range_name="c", **ax_text)

# ---------------------------------------------------------------- (d) precipitation
draw_panel("d", pr_ticks, [2, 4, 6, 8], labeled_ms, ["Precipitation", "(mm)"], "(d)", 13)
pt = to_time(precip_day)
p.segment(x0=pt, y0=0, x1=pt, y1=precip_mm, line_color="#0000FF", line_width=1.3, y_range_name="d")
draw_outline("d")
p.segment(x0=[x_lo], y0=[0], x1=[x_hi], y1=[0], line_color="#0000FF", line_width=2,
          y_range_name="d", level="overlay")
# time axis labels under the lowest panel
p.text(x=labeled_ms, y=[0] * len(labeled_ms), text=labeled_txt, y_offset=8,
       text_align=value("center"), text_baseline=value("top"), text_font_size=value("18px"),
       y_range_name="d", **ax_text)
p.text(x=[x_mid], y=[0], text=["Time (UTC)"], y_offset=44, text_align=value("center"),
       text_baseline=value("middle"), text_font_size=value("20px"), y_range_name="d", **ax_text)

open("out.html", "w").write(file_html(p, INLINE))
